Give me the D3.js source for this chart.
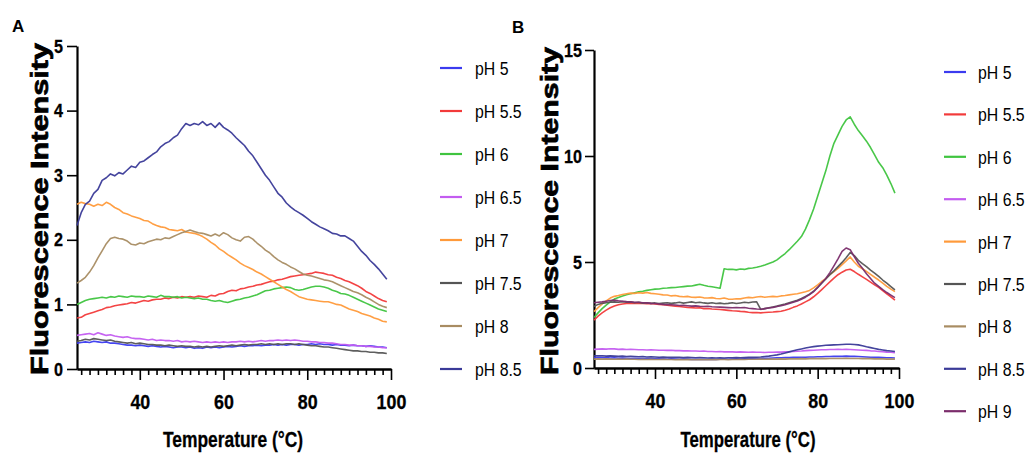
<!DOCTYPE html>
<html>
<head>
<meta charset="utf-8">
<script src="https://cdn.jsdelivr.net/npm/d3@7"></script>
<style>
  body { margin: 0; background: #fff; }
  svg text { font-family: "Liberation Sans", Arial, sans-serif; fill: #000; }
  .tick text { font-family: "Liberation Sans Narrow", "Liberation Sans", Arial, sans-serif; font-weight: bold; }
</style>
</head>
<body>
<svg id="chart" width="1034" height="453"></svg>
<script>
// temperature grid (°C)
const temps = [
  25,26,27,28,29,30,31,32,33,34,
  35,36,37,38,39,40,41,42,43,44,
  45,46,47,48,49,50,51,52,53,54,
  55,56,57,58,59,60,61,62,63,64,
  65,66,67,68,69,70,71,72,73,74,
  75,76,77,78,79,80,81,82,83,84,
  85,86,87,88,89,90,91,92,93,94,
  95,96,97,98,99];

const majorTicks = [40, 60, 80, 100];
const minorTicks = [26,28,30,32,34,36,38,42,44,46,48,50,52,54,56,58,62,64,66,68,70,72,74,76,78,82,84,86,88,90,92,94,96,98];
const yTicksA = [0, 1, 2, 3, 4, 5];
const yTicksB = [0, 5, 10, 15];

const labelsA = ["pH 5", "pH 5.5", "pH 6", "pH 6.5", "pH 7", "pH 7.5", "pH 8", "pH 8.5"];
const labelsB = ["pH 5", "pH 5.5", "pH 6", "pH 6.5", "pH 7", "pH 7.5", "pH 8", "pH 8.5", "pH 9"];
const colors = ["#3b3bef", "#f23a3a", "#3fc43f", "#c35cf0", "#ff9a3a", "#555555", "#a88c62", "#3a3a98", "#7b2d6b"];

// panel A
const a_ph5 = [
  0.40,0.41,0.42,0.41,0.43,0.42,0.41,0.42,0.40,0.40,
  0.39,0.38,0.37,0.37,0.36,0.37,0.36,0.35,0.36,0.35,
  0.34,0.35,0.34,0.33,0.34,0.34,0.33,0.34,0.32,0.33,
  0.32,0.34,0.33,0.34,0.33,0.34,0.35,0.34,0.35,0.36,
  0.35,0.36,0.36,0.37,0.36,0.37,0.37,0.38,0.37,0.38,
  0.37,0.38,0.38,0.37,0.38,0.38,0.39,0.38,0.39,0.38,
  0.38,0.37,0.38,0.37,0.37,0.36,0.37,0.36,0.36,0.35,
  0.36,0.35,0.34,0.34,0.33];
const a_ph55 = [
  0.79,0.80,0.84,0.86,0.88,0.90,0.92,0.95,0.96,0.98,
  0.99,1.00,1.01,1.03,1.02,1.04,1.06,1.05,1.07,1.08,
  1.08,1.10,1.09,1.11,1.10,1.12,1.11,1.12,1.11,1.13,
  1.12,1.11,1.14,1.13,1.16,1.17,1.20,1.22,1.21,1.24,
  1.25,1.27,1.28,1.30,1.31,1.33,1.35,1.36,1.38,1.39,
  1.41,1.43,1.44,1.45,1.46,1.47,1.48,1.50,1.49,1.48,
  1.46,1.45,1.42,1.40,1.37,1.35,1.32,1.29,1.25,1.20,
  1.17,1.13,1.09,1.06,1.04];
const a_ph6 = [
  1.00,1.03,1.06,1.08,1.09,1.10,1.11,1.10,1.12,1.11,
  1.13,1.12,1.11,1.13,1.12,1.12,1.11,1.13,1.12,1.11,
  1.14,1.12,1.12,1.11,1.12,1.10,1.11,1.10,1.09,1.10,
  1.08,1.08,1.06,1.05,1.06,1.04,1.03,1.05,1.07,1.08,
  1.10,1.11,1.13,1.15,1.18,1.21,1.22,1.24,1.25,1.26,
  1.27,1.26,1.23,1.22,1.23,1.25,1.27,1.28,1.28,1.27,
  1.25,1.22,1.20,1.17,1.16,1.14,1.11,1.08,1.05,1.02,
  0.99,0.96,0.93,0.91,0.89];
const a_ph65 = [
  0.52,0.53,0.54,0.55,0.53,0.56,0.54,0.52,0.53,0.51,
  0.50,0.49,0.50,0.48,0.47,0.47,0.46,0.45,0.46,0.44,
  0.45,0.44,0.44,0.43,0.44,0.42,0.43,0.42,0.43,0.42,
  0.41,0.42,0.41,0.42,0.41,0.42,0.41,0.42,0.42,0.43,
  0.42,0.43,0.42,0.43,0.44,0.43,0.44,0.44,0.45,0.44,
  0.45,0.44,0.45,0.44,0.43,0.43,0.42,0.42,0.41,0.41,
  0.40,0.40,0.39,0.38,0.38,0.37,0.37,0.36,0.36,0.35,
  0.35,0.34,0.34,0.33,0.33];
const a_ph7 = [
  2.55,2.58,2.56,2.55,2.52,2.55,2.53,2.58,2.55,2.50,
  2.47,2.42,2.40,2.37,2.35,2.33,2.30,2.29,2.25,2.22,
  2.20,2.19,2.16,2.15,2.14,2.16,2.12,2.11,2.10,2.08,
  2.05,2.01,1.96,1.92,1.86,1.82,1.77,1.73,1.69,1.64,
  1.60,1.57,1.54,1.50,1.47,1.43,1.39,1.35,1.31,1.27,
  1.23,1.20,1.16,1.12,1.10,1.08,1.07,1.06,1.05,1.04,
  1.04,1.02,1.00,0.99,0.96,0.93,0.91,0.89,0.86,0.84,
  0.82,0.79,0.77,0.74,0.73];
const a_ph75 = [
  0.43,0.44,0.46,0.45,0.47,0.46,0.45,0.44,0.45,0.43,
  0.42,0.41,0.40,0.41,0.39,0.40,0.39,0.38,0.38,0.37,
  0.37,0.36,0.37,0.36,0.35,0.36,0.35,0.35,0.34,0.35,
  0.34,0.35,0.34,0.35,0.36,0.35,0.36,0.37,0.36,0.37,
  0.38,0.37,0.38,0.38,0.39,0.38,0.39,0.38,0.39,0.38,
  0.39,0.39,0.38,0.39,0.38,0.37,0.36,0.36,0.35,0.34,
  0.34,0.33,0.32,0.31,0.30,0.29,0.28,0.28,0.27,0.27,
  0.26,0.26,0.25,0.25,0.24];
const a_ph8 = [
  1.33,1.37,1.42,1.50,1.60,1.72,1.83,1.94,2.02,2.04,
  2.02,2.01,1.98,1.93,1.92,1.95,1.94,1.97,1.99,2.01,
  2.00,2.03,2.02,2.05,2.08,2.11,2.13,2.15,2.13,2.11,
  2.10,2.08,2.06,2.09,2.06,2.11,2.08,2.03,2.00,1.98,
  2.04,2.05,2.01,1.95,1.90,1.84,1.80,1.74,1.69,1.65,
  1.62,1.58,1.55,1.51,1.47,1.45,1.44,1.42,1.40,1.38,
  1.37,1.35,1.32,1.29,1.26,1.23,1.20,1.18,1.15,1.11,
  1.08,1.04,1.00,0.97,0.95];
const a_ph85 = [
  2.22,2.42,2.55,2.60,2.72,2.78,2.92,2.96,3.02,2.99,
  3.04,3.02,3.08,3.14,3.12,3.20,3.22,3.27,3.32,3.36,
  3.44,3.49,3.52,3.58,3.62,3.72,3.80,3.77,3.80,3.78,
  3.83,3.77,3.80,3.74,3.81,3.74,3.70,3.65,3.58,3.52,
  3.46,3.37,3.30,3.20,3.10,3.00,2.92,2.82,2.72,2.66,
  2.57,2.51,2.46,2.42,2.38,2.33,2.28,2.24,2.20,2.17,
  2.14,2.10,2.09,2.06,2.06,2.02,1.98,1.90,1.82,1.76,
  1.68,1.62,1.55,1.47,1.39];

// panel B
const b_ph5 = [
  0.50,0.49,0.48,0.49,0.47,0.48,0.46,0.47,0.46,0.45,
  0.46,0.45,0.44,0.45,0.44,0.43,0.44,0.43,0.42,0.43,
  0.42,0.41,0.42,0.41,0.40,0.41,0.40,0.41,0.40,0.41,
  0.40,0.41,0.42,0.41,0.42,0.43,0.42,0.43,0.44,0.44,
  0.45,0.45,0.46,0.46,0.47,0.48,0.48,0.49,0.49,0.50,
  0.50,0.51,0.51,0.52,0.52,0.53,0.53,0.54,0.54,0.55,
  0.55,0.55,0.56,0.55,0.55,0.54,0.53,0.52,0.51,0.50,
  0.50,0.49,0.48,0.48,0.47];
const b_ph55 = [
  2.26,2.45,2.60,2.73,2.84,2.92,2.98,3.02,3.04,3.05,
  3.06,3.04,3.05,3.03,3.04,3.02,3.00,2.98,2.96,2.94,
  2.92,2.90,2.88,2.86,2.85,2.83,2.84,2.80,2.81,2.78,
  2.77,2.76,2.74,2.72,2.70,2.69,2.67,2.66,2.63,2.61,
  2.62,2.60,2.62,2.63,2.64,2.66,2.68,2.72,2.78,2.86,
  2.93,3.02,3.12,3.22,3.36,3.52,3.70,3.88,4.06,4.24,
  4.40,4.52,4.62,4.66,4.55,4.42,4.30,4.18,4.05,3.92,
  3.80,3.65,3.50,3.36,3.20];
const b_ph6 = [
  2.38,2.60,2.80,2.97,3.12,3.25,3.33,3.40,3.46,3.50,
  3.55,3.59,3.62,3.66,3.69,3.72,3.73,3.76,3.77,3.79,
  3.80,3.82,3.84,3.86,3.87,3.91,3.95,3.90,3.86,3.83,
  3.80,3.76,4.68,4.65,4.66,4.63,4.67,4.65,4.70,4.72,
  4.75,4.80,4.86,4.93,5.00,5.10,5.25,5.40,5.58,5.78,
  5.98,6.20,6.55,7.00,7.50,8.10,8.70,9.30,10.00,10.60,
  11.00,11.40,11.70,11.85,11.50,11.20,10.95,10.70,10.40,10.05,
  9.70,9.45,9.10,8.70,8.25];
const b_ph65 = [
  0.88,0.89,0.90,0.89,0.91,0.90,0.88,0.89,0.87,0.88,
  0.87,0.86,0.86,0.85,0.86,0.85,0.84,0.84,0.83,0.84,
  0.82,0.82,0.81,0.81,0.80,0.80,0.79,0.80,0.78,0.78,
  0.77,0.78,0.76,0.77,0.76,0.75,0.76,0.75,0.74,0.75,
  0.74,0.74,0.73,0.74,0.74,0.75,0.75,0.76,0.77,0.78,
  0.79,0.80,0.82,0.83,0.84,0.85,0.86,0.86,0.87,0.87,
  0.88,0.87,0.88,0.87,0.86,0.85,0.84,0.83,0.81,0.80,
  0.78,0.77,0.75,0.74,0.72];
const b_ph7 = [
  2.66,2.85,3.02,3.17,3.30,3.38,3.42,3.47,3.50,3.53,
  3.52,3.55,3.53,3.56,3.52,3.50,3.48,3.45,3.44,3.40,
  3.42,3.38,3.36,3.38,3.34,3.33,3.35,3.31,3.30,3.32,
  3.28,3.27,3.30,3.25,3.24,3.27,3.26,3.30,3.33,3.31,
  3.35,3.37,3.34,3.36,3.38,3.36,3.40,3.42,3.45,3.48,
  3.50,3.55,3.60,3.66,3.78,3.92,4.08,4.22,4.40,4.55,
  4.70,4.88,5.05,5.24,5.00,4.80,4.68,4.56,4.42,4.28,
  4.15,4.00,3.85,3.72,3.60];
const b_ph75 = [
  2.90,3.00,3.05,3.08,3.10,3.12,3.10,3.13,3.10,3.12,
  3.08,3.10,3.06,3.08,3.05,3.07,3.04,3.06,3.08,3.05,
  3.07,3.10,3.06,3.09,3.12,3.08,3.10,3.07,3.05,3.08,
  3.04,3.06,3.03,3.05,3.08,3.04,3.07,3.10,3.08,3.11,
  3.12,2.76,2.80,2.84,2.88,2.92,2.97,3.02,3.08,3.14,
  3.20,3.28,3.38,3.48,3.62,3.80,4.00,4.20,4.40,4.58,
  4.78,4.98,5.20,5.45,5.30,5.08,4.92,4.78,4.62,4.48,
  4.32,4.15,4.00,3.84,3.68];
const b_ph8 = [
  0.42,0.43,0.42,0.43,0.42,0.41,0.42,0.41,0.42,0.41,
  0.41,0.40,0.41,0.40,0.41,0.40,0.40,0.41,0.40,0.40,
  0.39,0.40,0.39,0.40,0.39,0.39,0.40,0.39,0.39,0.40,
  0.39,0.40,0.40,0.39,0.40,0.40,0.41,0.40,0.41,0.41,
  0.41,0.42,0.41,0.42,0.42,0.42,0.43,0.42,0.43,0.43,
  0.43,0.44,0.43,0.44,0.44,0.44,0.45,0.44,0.45,0.45,
  0.45,0.45,0.46,0.45,0.45,0.45,0.44,0.44,0.44,0.43,
  0.43,0.43,0.42,0.42,0.42];
const b_ph85 = [
  0.58,0.57,0.58,0.56,0.57,0.56,0.55,0.56,0.54,0.55,
  0.54,0.53,0.54,0.52,0.53,0.52,0.51,0.52,0.51,0.50,
  0.51,0.50,0.49,0.50,0.49,0.48,0.49,0.48,0.47,0.48,
  0.47,0.48,0.47,0.48,0.48,0.49,0.48,0.49,0.50,0.50,
  0.51,0.52,0.54,0.56,0.59,0.62,0.66,0.71,0.76,0.81,
  0.86,0.90,0.94,0.98,1.01,1.03,1.05,1.07,1.08,1.09,
  1.10,1.11,1.12,1.12,1.11,1.09,1.05,1.00,0.96,0.92,
  0.88,0.85,0.82,0.80,0.78];
const b_ph9 = [
  3.08,3.10,3.12,3.15,3.18,3.20,3.17,3.15,3.13,3.12,
  3.10,3.10,3.08,3.07,3.05,3.04,3.02,3.00,2.99,2.98,
  2.97,2.95,2.96,2.94,2.92,2.93,2.91,2.90,2.91,2.89,
  2.88,2.87,2.86,2.85,2.84,2.85,2.84,2.85,2.82,2.80,
  2.78,2.77,2.80,2.83,2.86,2.90,2.94,2.98,3.04,3.10,
  3.16,3.24,3.34,3.46,3.60,3.80,4.02,4.22,4.50,4.82,
  5.15,5.50,5.66,5.58,5.25,4.94,4.70,4.45,4.22,4.00,
  3.85,3.70,3.56,3.44,3.32];

const seriesA = [a_ph5, a_ph55, a_ph6, a_ph65, a_ph7, a_ph75, a_ph8, a_ph85];
const seriesB = [b_ph5, b_ph55, b_ph6, b_ph65, b_ph7, b_ph75, b_ph8, b_ph85, b_ph9];

const svg = d3.select("#chart");

// squeeze a text node horizontally (stand-in for a narrow face)
function narrow(sel, k) {
  sel.each(function() {
    const len = this.getComputedTextLength();
    d3.select(this).attr("textLength", len * k).attr("lengthAdjust", "spacingAndGlyphs");
  });
}

function drawPanel(p) {
  const x = d3.scaleLinear().domain([25, 100]).range([p.x0, p.x1]);
  const y = d3.scaleLinear().domain([0, p.yMax]).range([p.y0, p.y1]);
  const g = svg.append("g");

  // axes
  g.append("g")
    .attr("transform", "translate(0," + p.y0 + ")")
    .call(d3.axisBottom(x).tickValues(minorTicks).tickSize(6).tickSizeOuter(0).tickFormat(""));
  const major = g.append("g")
    .attr("transform", "translate(0," + p.y0 + ")")
    .call(d3.axisBottom(x).tickValues(majorTicks).tickSize(11).tickSizeOuter(0).tickPadding(14));
  major.selectAll("text").style("font-size", "21px").attr("stroke", "#000").attr("stroke-width", 0.3);
  narrow(major.selectAll("text"), 0.85);
  const yAx = g.append("g")
    .attr("transform", "translate(" + p.x0 + ",0)")
    .call(d3.axisLeft(y).tickValues(p.yTicks).tickSize(p.yTickSize).tickSizeOuter(0)
      .tickPadding(p.yPad).tickFormat(d3.format("d")));
  yAx.selectAll("text").style("font-size", "19px").attr("stroke", "#000").attr("stroke-width", 0.3);
  narrow(yAx.selectAll("text"), 0.85);
  g.selectAll(".domain").attr("stroke", "#000").attr("stroke-width", 2.2);
  g.selectAll(".tick line").attr("stroke", "#000").attr("stroke-width", 1.6);

  // curves
  const line = d3.line()
    .x(function(d, i) { return x(temps[i]); })
    .y(function(d) { return y(d); });
  p.series.forEach(function(vals, i) {
    g.append("path")
      .attr("d", line(vals))
      .attr("fill", "none")
      .attr("stroke", colors[i])
      .attr("stroke-width", 1.6)
      .attr("stroke-linejoin", "round")
      .attr("stroke-opacity", 0.95);
  });

  // titles
  g.append("text")
    .attr("transform", "translate(" + p.yTitleX + "," + p.yTitleY + ") rotate(-90)")
    .attr("text-anchor", "middle")
    .attr("textLength", p.yTitleLen)
    .attr("lengthAdjust", "spacingAndGlyphs")
    .attr("stroke", "#000")
    .attr("stroke-width", 0.7)
    .style("font-weight", "bold")
    .style("font-size", "23px")
    .text("Fluorescence Intensity");
  g.append("text")
    .attr("x", p.xTitleX)
    .attr("y", 447)
    .attr("text-anchor", "middle")
    .attr("textLength", p.xTitleLen)
    .attr("lengthAdjust", "spacingAndGlyphs")
    .attr("stroke", "#000")
    .attr("stroke-width", 0.3)
    .style("font-weight", "bold")
    .style("font-size", "22px")
    .text("Temperature (°C)");
  g.append("text")
    .attr("x", p.tagX)
    .attr("y", p.tagY)
    .style("font-weight", "bold")
    .style("font-size", "17px")
    .text(p.tag);

  // legend
  const leg = g.selectAll(".leg")
    .data(p.labels)
    .enter()
    .append("g")
    .attr("transform", function(d, i) { return "translate(0," + (p.legY + i * p.legStep) + ")"; });
  leg.append("line")
    .attr("x1", p.legX)
    .attr("x2", p.legX + 22)
    .attr("stroke", function(d, i) { return colors[i]; })
    .attr("stroke-width", 2.2);
  const lt = leg.append("text")
    .attr("x", p.legX + p.legGap)
    .attr("y", 7)
    .style("font-size", "18px")
    .text(function(d) { return d; });
  narrow(lt, 0.88);
}

drawPanel({
  x0: 77, x1: 391, y0: 369, y1: 46, yMax: 5, yTicks: yTicksA, yTickSize: 10, yPad: 4,
  series: seriesA, labels: labelsA,
  yTitleX: 48, yTitleY: 209, yTitleLen: 332, xTitleX: 233, xTitleLen: 140,
  tag: "A", tagX: 12, tagY: 32,
  legX: 440, legY: 68, legStep: 43, legGap: 35
});
drawPanel({
  x0: 594, x1: 899, y0: 368, y1: 50, yMax: 15, yTicks: yTicksB, yTickSize: 9, yPad: 3,
  series: seriesB, labels: labelsB,
  yTitleX: 558, yTitleY: 211, yTitleLen: 328, xTitleX: 748, xTitleLen: 135,
  tag: "B", tagX: 512, tagY: 33,
  legX: 944, legY: 72, legStep: 42.4, legGap: 34
});
</script>
</body>
</html>
